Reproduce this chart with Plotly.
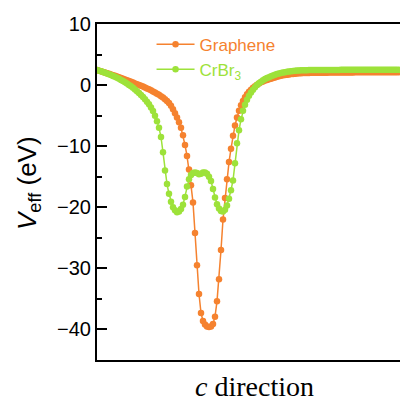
import plotly.graph_objects as go

graphene_v = [
    2.45, 2.35, 2.25, 2.15, 2.05, 1.95, 1.85, 1.74, 1.63, 1.52,
    1.40, 1.28, 1.16, 1.04, 0.92, 0.80, 0.67, 0.54, 0.41, 0.28,
    0.15, 0.02, -0.11, -0.25, -0.39, -0.54, -0.70, -0.86, -1.03, -1.21,
    -1.40, -1.60, -1.81, -2.04, -2.30, -2.60, -2.95, -3.40, -3.95, -4.60,
    -5.30, -6.10, -7.00, -8.20, -9.80, -11.6, -13.8, -16.4, -19.2, -24.2,
    -29.5, -34.2, -37.3, -38.6, -39.2, -39.5, -39.6, -39.5, -39.1, -37.9,
    -35.4, -31.8, -27.0, -22.0, -18.5, -15.4, -12.6, -10.4, -8.30, -6.60,
    -5.30, -4.20, -3.30, -2.60, -2.00, -1.50, -1.10, -0.75, -0.45, -0.20,
    0.05, 0.25, 0.45, 0.60, 0.75, 0.85, 0.95, 1.05, 1.15, 1.25,
    1.35, 1.45, 1.52, 1.60, 1.65, 1.70, 1.75, 1.80, 1.83, 1.86,
    1.89, 1.92, 1.94, 1.96, 1.97, 1.98, 1.99, 2.00, 2.00, 2.01,
    2.02, 2.02, 2.03, 2.03, 2.04, 2.04, 2.05, 2.05, 2.05, 2.06,
    2.06, 2.06, 2.07, 2.07, 2.07, 2.08, 2.08, 2.08, 2.08, 2.09,
    2.09, 2.09, 2.09, 2.10, 2.10, 2.10, 2.10, 2.10, 2.10, 2.11,
    2.11, 2.11, 2.11, 2.11, 2.12, 2.12, 2.12, 2.12, 2.12, 2.12,
    2.12, 2.12,
]

crbr3_v = [
    2.45, 2.35, 2.25, 2.14, 2.03, 1.91, 1.78, 1.64, 1.50, 1.35,
    1.20, 1.03, 0.85, 0.66, 0.46, 0.25, 0.03, -0.20, -0.45, -0.72,
    -1.00, -1.30, -1.62, -1.96, -2.32, -2.72, -3.15, -3.65, -4.25, -5.00,
    -5.90, -7.00, -8.50, -11.0, -14.0, -16.2, -17.8, -19.1, -20.0, -20.5,
    -20.8, -20.7, -20.3, -19.6, -18.3, -16.6, -15.4, -14.7, -14.4, -14.3,
    -14.4, -14.6, -14.5, -14.3, -14.3, -14.5, -15.0, -15.7, -17.0, -18.4,
    -19.5, -20.2, -20.6, -20.7, -20.4, -19.7, -18.6, -17.2, -15.6, -12.8,
    -9.50, -7.40, -5.60, -4.20, -3.20, -2.40, -1.75, -1.20, -0.75, -0.35,
    0.00, 0.30, 0.55, 0.78, 0.98, 1.15, 1.30, 1.45, 1.58, 1.70,
    1.80, 1.90, 1.98, 2.06, 2.12, 2.18, 2.23, 2.27, 2.31, 2.34,
    2.37, 2.39, 2.41, 2.42, 2.43, 2.44, 2.45, 2.45, 2.46, 2.46,
    2.47, 2.47, 2.47, 2.48, 2.48, 2.48, 2.48, 2.49, 2.49, 2.49,
    2.49, 2.49, 2.50, 2.50, 2.50, 2.50, 2.50, 2.50, 2.50, 2.50,
    2.50, 2.50, 2.50, 2.50, 2.50, 2.50, 2.50, 2.50, 2.50, 2.50,
    2.50, 2.50, 2.50, 2.50, 2.50, 2.50, 2.50, 2.50, 2.50, 2.50,
    2.50, 2.50,
]

c_pos = list(range(len(graphene_v)))

ORANGE = "#F5822F"
GREEN = "#9DE23A"

fig = go.Figure()
fig.add_trace(go.Scatter(
    x=c_pos, y=graphene_v, mode="lines+markers",
    name=f"<span style='color:{ORANGE}'>Graphene</span>",
    line=dict(color=ORANGE, width=1.5),
    marker=dict(color=ORANGE, size=6.5),
))
fig.add_trace(go.Scatter(
    x=list(range(len(crbr3_v))), y=crbr3_v, mode="lines+markers",
    name=f"<span style='color:{GREEN}'>CrBr<sub>3</sub></span>",
    line=dict(color=GREEN, width=1.5),
    marker=dict(color=GREEN, size=6.5),
))

fig.update_layout(
    width=400, height=401,
    margin=dict(l=97, r=0, t=24, b=41),
    paper_bgcolor="white", plot_bgcolor="white",
    showlegend=True,
    legend=dict(x=0.18, y=0.992, xanchor="left", yanchor="top",
                bgcolor="rgba(0,0,0,0)", font=dict(family="Liberation Sans, Arial", size=17),
                itemwidth=38, tracegroupgap=0),
    xaxis=dict(range=[0, 151.5], showgrid=False, zeroline=False,
               showline=True, linecolor="black", linewidth=2, mirror=True,
               showticklabels=False, ticks=""),
    yaxis=dict(range=[-45, 10], showgrid=False, zeroline=False,
               showline=True, linecolor="black", linewidth=2,
               tickmode="linear", tick0=0, dtick=10,
               ticks="inside", ticklen=10, tickwidth=2, tickcolor="black",
               minor=dict(ticks="inside", ticklen=5, tickwidth=2, tickcolor="black", dtick=5, tick0=0),
               tickfont=dict(family="Liberation Sans, Arial", size=20, color="black")),
    annotations=[
        dict(text="<i>V</i><sub>eff</sub> (eV)", xref="paper", yref="paper",
             x=(28 - 97) / 303, y=(360 - 183) / 336, showarrow=False, textangle=-90,
             font=dict(family="Liberation Sans, Arial", size=26, color="black"),
             xanchor="center", yanchor="middle"),
        dict(text="<i>c</i> direction", xref="paper", yref="paper",
             x=(254 - 97) / 303, y=(360 - 386) / 336, showarrow=False,
             font=dict(family="Liberation Serif, Times New Roman", size=28, color="black"),
             xanchor="center", yanchor="middle"),
    ],
)

fig.write_html("out.html")
